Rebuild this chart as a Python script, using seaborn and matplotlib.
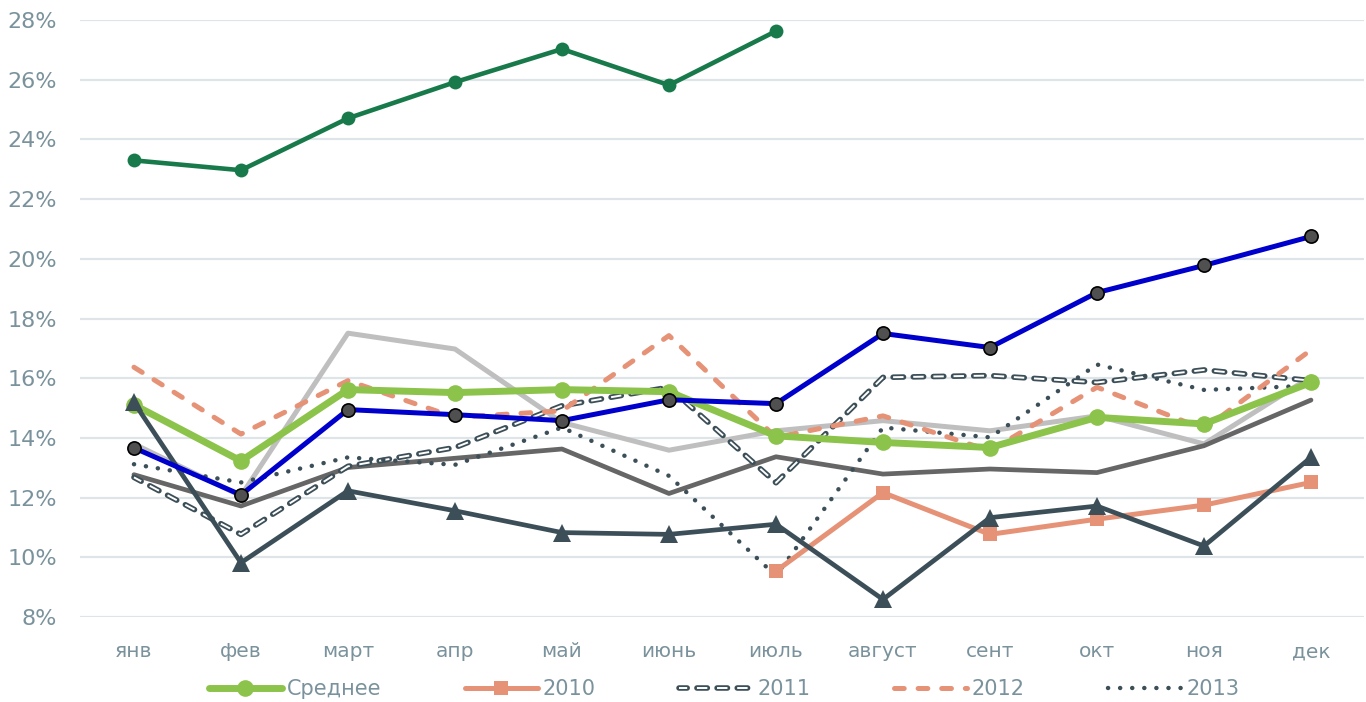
import numpy as np
import pandas as pd
import matplotlib
matplotlib.use("Agg")
import matplotlib.pyplot as plt
import matplotlib.patheffects as pe
import seaborn as sns

nan = np.nan

MONTHS = ["янв", "фев", "март", "апр", "май", "июнь",
          "июль", "август", "сент", "окт", "ноя", "дек"]

LIGHT_GRAY = [13.8, 12.06, 17.51, 16.98, 14.52, 13.59, 14.24, 14.58, 14.24, 14.74, 13.8, 16.05]
DARK_GRAY  = [12.77, 11.72, 13.01, 13.32, 13.63, 12.14, 13.37, 12.79, 12.96, 12.84, 13.74, 15.27]
Y2011      = [12.68, 10.77, 13.05, 13.68, 15.08, 15.7, 12.5, 16.03, 16.09, 15.86, 16.28, 15.92]
Y2013      = [13.12, 12.51, 13.35, 13.1, 14.35, 12.73, 9.38, 14.35, 14.02, 16.46, 15.61, 15.75]
Y2012      = [16.37, 14.13, 15.92, 14.69, 14.91, 17.43, 14.02, 14.74, 13.57, 15.7, 14.3, 16.95]
Y2010      = [nan, nan, nan, nan, nan, nan, 9.54, 12.17, 10.77, 11.28, 11.75, 12.51]
AVERAGE    = [15.11, 13.23, 15.62, 15.52, 15.62, 15.55, 14.07, 13.85, 13.68, 14.69, 14.47, 15.86]
TRIANGLE   = [15.19, 9.82, 12.23, 11.56, 10.83, 10.77, 11.11, 8.59, 11.33, 11.72, 10.38, 13.35]
BLUE       = [13.67, 12.09, 14.95, 14.78, 14.58, 15.28, 15.15, 17.5, 17.03, 18.87, 19.78, 20.75]
GREEN_TOP  = [23.3, 22.97, 24.71, 25.92, 27.03, 25.82, 27.63, nan, nan, nan, nan, nan]

Y_TICKS = list(range(8, 29, 2))

TEXT_COLOR  = "#7A929C"
GRID_COLOR  = "#DFE4E8"
SLATE       = "#3C4F58"
SALMON      = "#E69277"
AVG_GREEN   = "#8CC34B"
DARK_GREEN  = "#187A4B"
BLUE_COLOR  = "#0000CC"

df = pd.DataFrame({
    "month": MONTHS,
    "light": LIGHT_GRAY, "dark": DARK_GRAY,
    "y2011": Y2011, "y2013": Y2013, "y2012": Y2012, "y2010": Y2010,
    "avg": AVERAGE, "tri": TRIANGLE, "blue": BLUE, "green": GREEN_TOP,
})

sns.set_theme(style="white")
plt.rcParams["font.family"] = ["DejaVu Sans"]
plt.rcParams["lines.scale_dashes"] = False

fig = plt.figure(figsize=(13.66, 7.02), dpi=100)
ax = fig.add_axes([0.0589, 0.121, 0.94, 0.8504])


def draw(col, **kw):
    sns.lineplot(data=df, x="month", y=col, ax=ax, errorbar=None, sort=False, **kw)


draw("light", color="#BFBFBF", lw=3.6, label="_light")
draw("dark", color="#666666", lw=3.4, label="_dark")
# 2011: hollow dashes = white dash over a wider dark round-capped dash
draw("y2011", color="white", lw=1.4, linestyle=(1.6, (7.5, 7)),
     dash_capstyle="butt",
     path_effects=[pe.Stroke(linewidth=4.0, foreground=SLATE, capstyle="round"),
                   pe.Normal()],
     label="2011")
draw("y2013", color=SLATE, lw=3.2, linestyle=(0, (0.1, 8.6)),
     dash_capstyle="round", label="2013")
draw("y2012", color=SALMON, lw=3.6, linestyle=(0, (7, 10)),
     dash_capstyle="round", label="2012")
draw("y2010", color=SALMON, lw=3.6, marker="s", markersize=10,
     markeredgewidth=0, markeredgecolor=SALMON, label="2010")
draw("avg", color=AVG_GREEN, lw=5, marker="o", markersize=12,
     markeredgewidth=0, markeredgecolor=AVG_GREEN, label="Среднее")
draw("tri", color=SLATE, lw=3.4, marker="^", markersize=13,
     markeredgewidth=0, markeredgecolor=SLATE, label="_tri")
draw("blue", color=BLUE_COLOR, lw=3.6, marker="o", markersize=9.5,
     markerfacecolor="#505050", markeredgecolor="black", markeredgewidth=1.2,
     label="_blue")
draw("green", color=DARK_GREEN, lw=3.3, marker="o", markersize=10,
     markeredgewidth=0, markeredgecolor=DARK_GREEN, label="_green")

if ax.get_legend() is not None:
    ax.get_legend().remove()

ax.set_xlim(-0.5, len(MONTHS) - 0.5)
ax.set_ylim(Y_TICKS[0], Y_TICKS[-1])
ax.set_yticks(Y_TICKS)
ax.yaxis.set_major_formatter(lambda v, p: f"{v:.0f}%")
ax.set_xlabel("")
ax.set_ylabel("")
ax.grid(axis="y", color=GRID_COLOR, lw=1.6)
ax.grid(axis="x", visible=False)
ax.set_axisbelow(True)
for s in ax.spines.values():
    s.set_visible(False)
ax.tick_params(axis="y", length=0, pad=17, labelsize=16, labelcolor=TEXT_COLOR)
ax.tick_params(axis="x", length=0, pad=18, labelsize=14.5, labelcolor=TEXT_COLOR)

handles, labels = ax.get_legend_handles_labels()
order = ["Среднее", "2010", "2011", "2012", "2013"]
lookup = dict(zip(labels, handles))
fig.legend([lookup[k] for k in order], order, loc="center",
           bbox_to_anchor=(0.53, 0.018), ncol=5, frameon=False, fontsize=15,
           handlelength=3.5, handletextpad=0.25, columnspacing=4.0,
           labelcolor=TEXT_COLOR)

fig.savefig("out.png", dpi=100)
